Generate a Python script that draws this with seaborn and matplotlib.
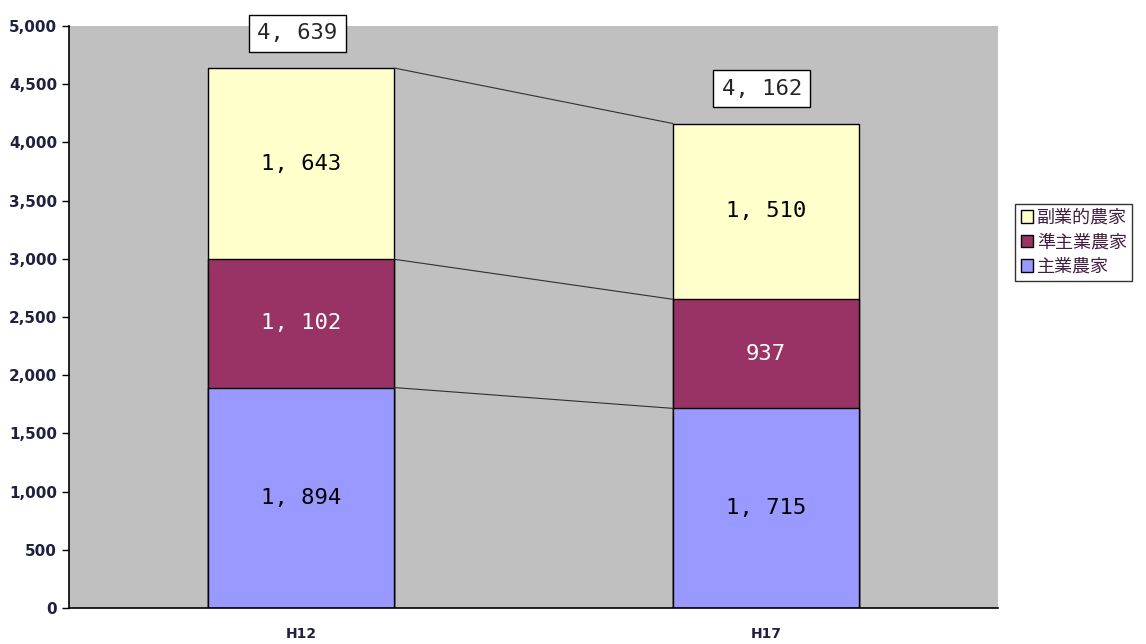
import numpy as np
import pandas as pd
import matplotlib
matplotlib.use("Agg")
import matplotlib.pyplot as plt
import seaborn as sns

# data
years = ["H12", "H17"]
shugyo = [1894, 1715]        # 主業農家
jun_shugyo = [1102, 937]     # 準主業農家
fukugyo = [1643, 1510]       # 副業的農家
series_names = ["副業的農家", "準主業農家", "主業農家"]

colors = {"主業農家": "#9999FF", "準主業農家": "#993366", "副業的農家": "#FFFFCC"}
text_colors = {"主業農家": "black", "準主業農家": "white", "副業的農家": "black"}

sns.set_theme(style="white")
plt.rcParams["font.family"] = ["Noto Sans CJK JP", "DejaVu Sans"]

cum1 = np.array(shugyo)
cum2 = cum1 + np.array(jun_shugyo)
cum3 = cum2 + np.array(fukugyo)

df = pd.DataFrame({"year": years, "c1": cum1, "c2": cum2, "c3": cum3})

fig = plt.figure(figsize=(11.46, 6.44), dpi=100)
ax = fig.add_axes([0.0602, 0.0559, 0.8109, 0.9037])
ax.set_facecolor("#C0C0C0")

# stacked by overdrawing cumulative totals, top layer first
for col, name in [("c3", "副業的農家"), ("c2", "準主業農家"), ("c1", "主業農家")]:
    sns.barplot(data=df, x="year", y=col, color=colors[name], width=0.4,
                edgecolor="black", linewidth=1.0, saturation=1, ax=ax)

# connector lines between bar segments
for c in [cum1, cum2, cum3]:
    ax.plot([0.2, 0.8], c, color="#303030", linewidth=0.8, zorder=3)

# segment labels
def fmt(v):
    return f"{v:,}".replace(",", ", ")

for i in range(len(years)):
    segs = [("主業農家", 0, cum1[i]), ("準主業農家", cum1[i], cum2[i]),
            ("副業的農家", cum2[i], cum3[i])]
    for name, lo, hi in segs:
        ax.text(i, (lo + hi) / 2, fmt(int(hi - lo)), ha="center", va="center",
                fontsize=16, color=text_colors[name], family="DejaVu Sans Mono")
    ax.annotate(fmt(int(cum3[i])), xy=(i, cum3[i]), xytext=(-3, 25),
                textcoords="offset points", ha="center", va="center",
                fontsize=16, family="DejaVu Sans Mono", annotation_clip=False,
                bbox=dict(boxstyle="square,pad=0.38", fc="white", ec="black", lw=1))

ax.set_xlim(-0.5, 1.5)
ax.set_ylim(0, 5000)
ax.set_yticks(np.arange(0, 5001, 500))
ax.yaxis.set_major_formatter(matplotlib.ticker.FuncFormatter(lambda v, p: f"{int(v):,}"))
ax.set_xlabel("")
ax.set_ylabel("")
ax.set_xticks([0, 1])
ax.set_xticklabels(years)
ax.set_xticks([0.5], minor=True)
ax.tick_params(axis="x", which="major", length=0, pad=14, labelsize=10, labelcolor="#202040")
ax.tick_params(axis="x", which="minor", direction="in", length=6, width=1, color="black")
ax.tick_params(axis="y", direction="out", length=5, width=1, color="black",
               labelsize=11, labelcolor="#202040", left=True)
for lab in ax.get_xticklabels() + ax.get_yticklabels():
    lab.set_fontweight("bold")
    lab.set_family("DejaVu Sans")

for s in ["top", "right"]:
    ax.spines[s].set_visible(False)
for s in ["left", "bottom"]:
    ax.spines[s].set_color("black")
    ax.spines[s].set_linewidth(1.2)

handles = [matplotlib.patches.Patch(facecolor=colors[n], edgecolor="black", lw=1) for n in series_names]
leg = fig.legend(handles, series_names, loc="upper left", bbox_to_anchor=(0.886, 0.684),
                 fontsize=13, frameon=True, fancybox=False, edgecolor="black",
                 handlelength=0.7, handleheight=0.7, handletextpad=0.2,
                 labelspacing=0.35, borderpad=0.3, borderaxespad=0)
leg.get_frame().set_linewidth(1)
for t in leg.get_texts():
    t.set_color("#402040")

fig.savefig("out.png", dpi=100)
